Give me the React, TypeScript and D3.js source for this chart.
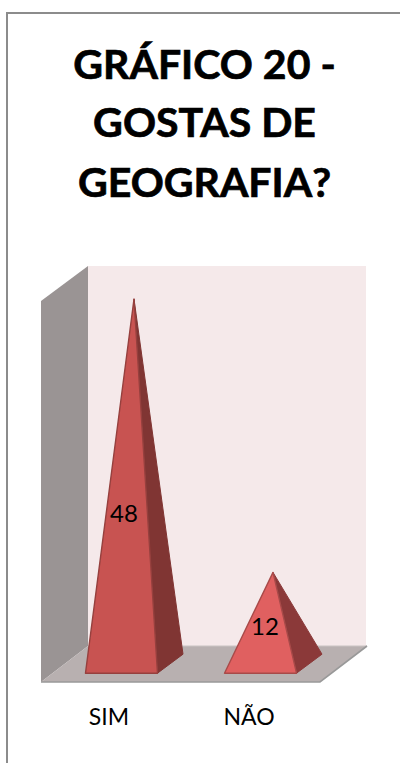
import React from "react";
import * as d3 from "d3";

const titleLines = ["GRÁFICO 20 -", "GOSTAS DE", "GEOGRAFIA?"];
const categories = ["SIM", "NÃO"];
const values = [48, 12];
const frontColors = ["#c85351", "#e06060"];
const sideColors = ["#803533", "#8b3939"];
const edgeColors = ["#96403e", "#a84a49"];

const font = "Lato, Carlito, sans-serif";

export default function App() {
  // category scale runs through the pyramid's base centre
  const x = d3.scalePoint<string>().domain(categories).range([134, 273]);
  const y = d3.scaleLinear().domain([0, 48]).range([663.5, 299]);
  const baseHalf = 48.5;
  const depthX = 25.5;
  const depthY = 19;

  return (
    <svg
      width={400}
      height={763}
      style={{ position: "absolute", left: 0, top: 0, background: "#fff" }}
    >
      <path d="M7,763 V13 H400" fill="none" stroke="#8c8c8c" strokeWidth={2} />

      {titleLines.map((t, i) => (
        <text
          key={t}
          x={204.5}
          y={[79, 137, 197][i]}
          textAnchor="middle"
          fontFamily={font}
          fontWeight={700}
          fontSize={41}
          fill="#000"
          stroke="#000"
          strokeWidth={0.7}
        >
          {t}
        </text>
      ))}

      {/* chart walls and floor */}
      <path d="M88,266 H366 V646 H88 Z" fill="#f5e9ea" />
      <path d="M41,301 L88,266 V646 L41,682 Z" fill="#9a9494" />
      <path d="M41,682 L88,646 H367 L320,682 Z" fill="#b8b0b0" />
      <path d="M88,646 H367" stroke="#c9c3c3" strokeWidth={1} fill="none" />
      <path d="M41,682 H320 L367,646" fill="none" stroke="#999" strokeWidth={1.6} />

      {categories.map((c, i) => {
        const cx = x(c) as number;
        const apexY = y(values[i]);
        const frontY = y(0) + depthY / 2 + 0.2;
        const fl = cx - baseHalf;
        const fr = cx - baseHalf + 72;
        const br = fr + depthX;
        const by = frontY - depthY;
        const apex = [cx, apexY];
        return (
          <g key={c}>
            <path
              d={d3.line()([apex as [number, number], [fr, frontY], [br, by]]) + "Z"}
              fill={sideColors[i]}
              stroke={sideColors[i]}
              strokeWidth={1}
              strokeLinejoin="round"
            />
            <path
              d={d3.line()([apex as [number, number], [fl, frontY], [fr, frontY]]) + "Z"}
              fill={frontColors[i]}
              stroke={edgeColors[i]}
              strokeWidth={1.4}
              strokeLinejoin="round"
            />
            <text
              x={i === 0 ? 124 : 265}
              y={i === 0 ? 522 : 635}
              textAnchor="middle"
              fontFamily={font}
              fontSize={24}
              fill="#000"
            >
              {values[i]}
            </text>
            <text
              x={i === 0 ? 109 : 249}
              y={725}
              textAnchor="middle"
              fontFamily={font}
              fontSize={23}
              fill="#000"
            >
              {c}
            </text>
          </g>
        );
      })}
    </svg>
  );
}
